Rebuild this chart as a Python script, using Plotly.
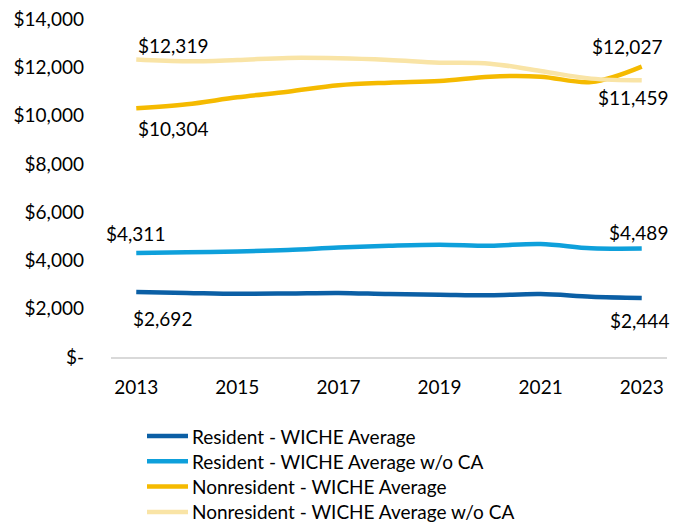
import plotly.graph_objects as go

years = list(range(2013, 2024))
resident_avg = [2692, 2655, 2618, 2630, 2655, 2605, 2580, 2556, 2605, 2494, 2444]
resident_wo_ca = [4311, 4341, 4370, 4430, 4533, 4607, 4651, 4607, 4681, 4503, 4489]
nonres_avg = [10304, 10468, 10758, 10990, 11254, 11363, 11433, 11612, 11612, 11391, 12027]
nonres_wo_ca = [12319, 12248, 12303, 12386, 12372, 12303, 12193, 12150, 11848, 11530, 11459]

series_names = ["Resident - WICHE Average", "Resident - WICHE Average w/o CA",
                "Nonresident - WICHE Average", "Nonresident - WICHE Average w/o CA"]
series_vals = [resident_avg, resident_wo_ca, nonres_avg, nonres_wo_ca]
colors = ["#0B5FA5", "#0EA0DB", "#F5BA00", "#F9E4A6"]

y_ticks = [0, 2000, 4000, 6000, 8000, 10000, 12000, 14000]
y_ticktext = ["$-", "$2,000", "$4,000", "$6,000", "$8,000", "$10,000", "$12,000", "$14,000"]
x_ticks = [2013, 2015, 2017, 2019, 2021, 2023]

FONT = "Lato"
FS = 19
W, H = 685, 525
ML, MR, MT, MB = 111, 18, 19, 168
PW, PH = W - ML - MR, H - MT - MB

fig = go.Figure()
for name, vals, c in zip(series_names, series_vals, colors):
    fig.add_trace(go.Scatter(x=years, y=vals, mode="lines", name=name, showlegend=False,
                             line=dict(color=c, width=4.5), line_shape="spline"))

def fmt(v):
    return "${:,}".format(v)

# label specs: (series index, point index, xanchor, xshift, yshift)
label_specs = [
    (3, 0, "left", 0, 14),
    (2, 0, "left", 0, -20),
    (1, 0, "center", -1, 19),
    (0, 0, "center", 26, -26),
    (2, -1, "center", -15, 20),
    (3, -1, "center", -9, -17),
    (1, -1, "center", -3, 16),
    (0, -1, "center", -2, -23),
]
for si, pi, xa, xs, ys in label_specs:
    vals = series_vals[si]
    fig.add_annotation(x=years[pi], y=vals[pi], text=fmt(vals[pi]), showarrow=False,
                       xanchor=xa, yanchor="middle", xshift=xs, yshift=ys,
                       font=dict(family=FONT, size=FS, color="black"))

# manual legend (layout positions in pixels -> paper coords)
def px_x(px):
    return (px - ML) / PW

def px_y(py):
    return (H - MB - py) / PH

leg_top_row = 436
leg_step = 25.3
for i, (name, c) in enumerate(zip(series_names, colors)):
    yc = leg_top_row + i * leg_step
    fig.add_shape(type="line", xref="paper", yref="paper",
                  x0=px_x(147), x1=px_x(188), y0=px_y(yc), y1=px_y(yc),
                  line=dict(color=c, width=4.5))
    fig.add_annotation(xref="paper", yref="paper", x=px_x(190), y=px_y(yc),
                       text=name, showarrow=False, xanchor="left", yanchor="middle",
                       font=dict(family=FONT, size=FS, color="black"))

fig.update_layout(
    width=W, height=H,
    margin=dict(l=ML, r=MR, t=MT, b=MB, autoexpand=False),
    paper_bgcolor="white", plot_bgcolor="white",
    font=dict(family=FONT, size=FS, color="black"),
    showlegend=False,
)
fig.update_xaxes(range=[2012.5, 2023.5], tickvals=x_ticks, ticktext=[str(x) for x in x_ticks],
                 showgrid=False, zeroline=False, showline=True, linecolor="#D9D9D9", linewidth=1.5,
                 ticks="", ticklabelstandoff=12, tickfont=dict(family=FONT, size=FS))
fig.update_yaxes(range=[0, 14000], tickvals=y_ticks, ticktext=y_ticktext,
                 showgrid=False, zeroline=False, showline=False, ticks="",
                 ticklabelstandoff=26, tickfont=dict(family=FONT, size=FS))

fig.write_html("out.html")
